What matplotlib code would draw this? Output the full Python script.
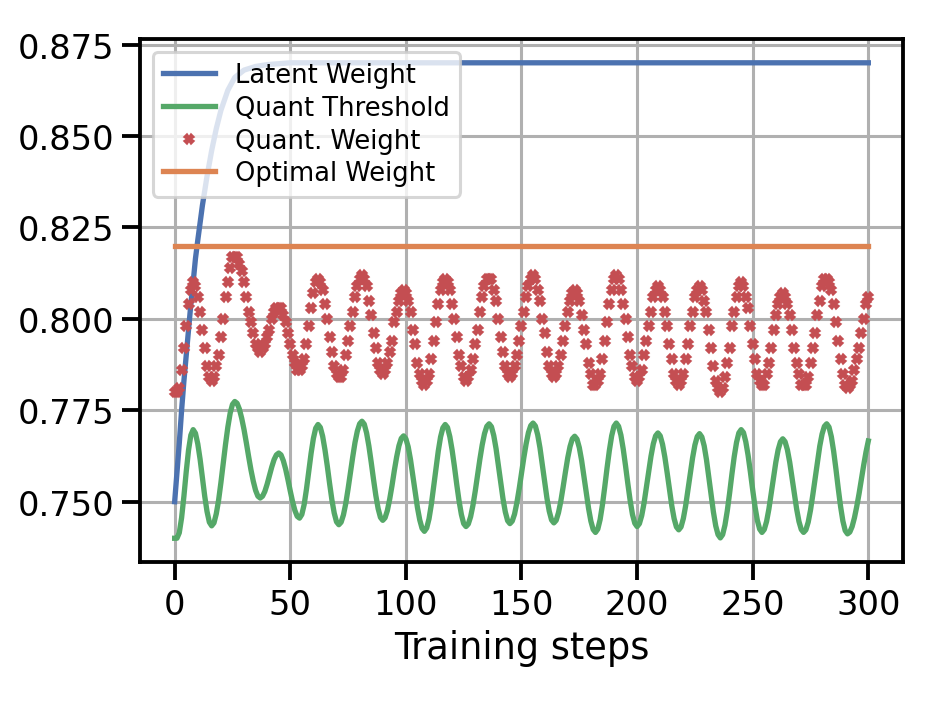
import numpy as np
import matplotlib
matplotlib.use("Agg")
import matplotlib.pyplot as plt
import seaborn as sns

# latent weight, read at a few steps (rest is flat)
latent_steps = [0, 1, 2, 3, 4, 5, 6, 7, 8, 9, 10, 12, 14, 16, 18, 20, 23, 26,
                30, 35, 40, 50, 300]
latent_weight = [0.750, 0.758, 0.766, 0.775, 0.783, 0.790, 0.797, 0.804, 0.810,
                 0.8165, 0.8215, 0.831, 0.839, 0.846, 0.852, 0.857, 0.8625,
                 0.866, 0.868, 0.869, 0.8695, 0.870, 0.870]

# quant threshold, one value per training step (0..300)
quant_threshold = [
    0.7400, 0.7400, 0.7415, 0.7456, 0.7515, 0.7582, 0.7641, 0.7682, 0.7697, 0.7687,
    0.7658, 0.7616, 0.7565, 0.7515, 0.7473, 0.7444, 0.7434, 0.7442, 0.7467, 0.7504,
    0.7552, 0.7604, 0.7657, 0.7704, 0.7742, 0.7766, 0.7774, 0.7769, 0.7753, 0.7728,
    0.7697, 0.7661, 0.7623, 0.7587, 0.7556, 0.7531, 0.7515, 0.7510, 0.7515, 0.7528,
    0.7548, 0.7572, 0.7595, 0.7615, 0.7628, 0.7633, 0.7628, 0.7612, 0.7589, 0.7560,
    0.7529, 0.7500, 0.7476, 0.7460, 0.7455, 0.7465, 0.7492, 0.7534, 0.7583, 0.7632,
    0.7673, 0.7701, 0.7711, 0.7703, 0.7679, 0.7642, 0.7598, 0.7550, 0.7505, 0.7469,
    0.7445, 0.7437, 0.7444, 0.7464, 0.7495, 0.7535, 0.7579, 0.7622, 0.7662, 0.7693,
    0.7713, 0.7720, 0.7712, 0.7688, 0.7652, 0.7608, 0.7561, 0.7517, 0.7481, 0.7457,
    0.7449, 0.7456, 0.7476, 0.7507, 0.7544, 0.7585, 0.7622, 0.7653, 0.7673, 0.7680,
    0.7672, 0.7650, 0.7615, 0.7572, 0.7527, 0.7484, 0.7450, 0.7427, 0.7419, 0.7428,
    0.7453, 0.7492, 0.7540, 0.7590, 0.7638, 0.7677, 0.7702, 0.7711, 0.7703, 0.7678,
    0.7641, 0.7596, 0.7547, 0.7502, 0.7465, 0.7440, 0.7432, 0.7439, 0.7459, 0.7490,
    0.7529, 0.7573, 0.7616, 0.7655, 0.7686, 0.7706, 0.7713, 0.7705, 0.7681, 0.7645,
    0.7600, 0.7553, 0.7508, 0.7472, 0.7448, 0.7440, 0.7447, 0.7466, 0.7497, 0.7535,
    0.7578, 0.7620, 0.7658, 0.7689, 0.7708, 0.7715, 0.7707, 0.7683, 0.7647, 0.7602,
    0.7555, 0.7510, 0.7474, 0.7450, 0.7442, 0.7449, 0.7470, 0.7501, 0.7540, 0.7581,
    0.7620, 0.7651, 0.7672, 0.7679, 0.7671, 0.7648, 0.7613, 0.7570, 0.7525, 0.7482,
    0.7447, 0.7424, 0.7416, 0.7425, 0.7451, 0.7491, 0.7540, 0.7592, 0.7640, 0.7680,
    0.7706, 0.7715, 0.7706, 0.7682, 0.7644, 0.7598, 0.7549, 0.7503, 0.7465, 0.7441,
    0.7432, 0.7440, 0.7462, 0.7496, 0.7538, 0.7582, 0.7624, 0.7658, 0.7680, 0.7688,
    0.7680, 0.7657, 0.7622, 0.7579, 0.7533, 0.7489, 0.7454, 0.7431, 0.7423, 0.7431,
    0.7454, 0.7489, 0.7532, 0.7577, 0.7620, 0.7655, 0.7678, 0.7686, 0.7677, 0.7653,
    0.7615, 0.7568, 0.7519, 0.7472, 0.7434, 0.7410, 0.7401, 0.7410, 0.7436, 0.7475,
    0.7523, 0.7575, 0.7623, 0.7662, 0.7688, 0.7697, 0.7689, 0.7664, 0.7627, 0.7581,
    0.7532, 0.7486, 0.7449, 0.7425, 0.7416, 0.7424, 0.7446, 0.7480, 0.7522, 0.7566,
    0.7608, 0.7642, 0.7664, 0.7672, 0.7664, 0.7642, 0.7608, 0.7566, 0.7522, 0.7480,
    0.7446, 0.7424, 0.7416, 0.7423, 0.7444, 0.7477, 0.7519, 0.7564, 0.7610, 0.7652,
    0.7685, 0.7706, 0.7713, 0.7704, 0.7678, 0.7638, 0.7589, 0.7536, 0.7487, 0.7447,
    0.7421, 0.7412, 0.7417, 0.7432, 0.7456, 0.7487, 0.7522, 0.7561, 0.7600, 0.7636,
    0.7666,
]

# quantized weight, one marker per training step (0..300)
quant_weight = [
    0.780, 0.780, 0.781, 0.786, 0.792, 0.798, 0.804, 0.808, 0.810, 0.809,
    0.806, 0.802, 0.797, 0.792, 0.787, 0.784, 0.783, 0.784, 0.787, 0.790,
    0.795, 0.800, 0.806, 0.810, 0.814, 0.817, 0.817, 0.817, 0.815, 0.813,
    0.810, 0.806, 0.802, 0.799, 0.796, 0.793, 0.792, 0.791, 0.792, 0.793,
    0.795, 0.797, 0.800, 0.802, 0.803, 0.803, 0.803, 0.801, 0.799, 0.796,
    0.793, 0.790, 0.788, 0.786, 0.786, 0.787, 0.789, 0.793, 0.798, 0.803,
    0.807, 0.810, 0.811, 0.810, 0.808, 0.804, 0.800, 0.795, 0.791, 0.787,
    0.785, 0.784, 0.784, 0.786, 0.790, 0.794, 0.798, 0.802, 0.806, 0.809,
    0.811, 0.812, 0.811, 0.809, 0.805, 0.801, 0.796, 0.792, 0.788, 0.786,
    0.785, 0.786, 0.788, 0.791, 0.794, 0.799, 0.802, 0.805, 0.807, 0.808,
    0.807, 0.805, 0.802, 0.797, 0.793, 0.788, 0.785, 0.783, 0.782, 0.783,
    0.785, 0.789, 0.794, 0.799, 0.804, 0.808, 0.810, 0.811, 0.810, 0.808,
    0.804, 0.800, 0.795, 0.790, 0.787, 0.784, 0.783, 0.784, 0.786, 0.789,
    0.793, 0.797, 0.802, 0.806, 0.809, 0.811, 0.811, 0.811, 0.808, 0.805,
    0.800, 0.795, 0.791, 0.787, 0.785, 0.784, 0.785, 0.787, 0.790, 0.794,
    0.798, 0.802, 0.806, 0.809, 0.811, 0.812, 0.811, 0.808, 0.805, 0.800,
    0.796, 0.791, 0.787, 0.785, 0.784, 0.785, 0.787, 0.790, 0.794, 0.798,
    0.802, 0.805, 0.807, 0.808, 0.807, 0.805, 0.801, 0.797, 0.793, 0.788,
    0.785, 0.782, 0.782, 0.783, 0.785, 0.789, 0.794, 0.799, 0.804, 0.808,
    0.811, 0.812, 0.811, 0.808, 0.804, 0.800, 0.795, 0.790, 0.787, 0.784,
    0.783, 0.784, 0.786, 0.790, 0.794, 0.798, 0.802, 0.806, 0.808, 0.809,
    0.808, 0.806, 0.802, 0.798, 0.793, 0.789, 0.785, 0.783, 0.782, 0.783,
    0.785, 0.789, 0.793, 0.798, 0.802, 0.806, 0.808, 0.809, 0.808, 0.805,
    0.802, 0.797, 0.792, 0.787, 0.783, 0.781, 0.780, 0.781, 0.784, 0.788,
    0.792, 0.798, 0.802, 0.806, 0.809, 0.810, 0.809, 0.806, 0.803, 0.798,
    0.793, 0.789, 0.785, 0.783, 0.782, 0.782, 0.785, 0.788, 0.792, 0.797,
    0.801, 0.804, 0.806, 0.807, 0.806, 0.804, 0.801, 0.797, 0.792, 0.788,
    0.785, 0.782, 0.782, 0.782, 0.784, 0.788, 0.792, 0.796, 0.801, 0.805,
    0.809, 0.811, 0.811, 0.810, 0.808, 0.804, 0.799, 0.794, 0.789, 0.785,
    0.782, 0.781, 0.782, 0.783, 0.786, 0.789, 0.792, 0.796, 0.800, 0.804,
    0.806,
]

optimal_steps = [0, 300]
optimal_weight = [0.82, 0.82]


def main():
    sns.set_context("talk")
    colors = sns.color_palette("deep")

    steps = np.arange(len(quant_threshold))

    fig = plt.figure(figsize=(942 / 147, 706 / 147), dpi=147)
    ax = fig.add_subplot(111)
    fig.subplots_adjust(left=0.1486, right=0.9586, bottom=0.2025, top=0.9433)

    ax.plot(latent_steps, latent_weight, color=colors[0], lw=2.6,
            label="Latent Weight")
    ax.plot(steps, quant_threshold, color=colors[2], lw=2.6,
            label="Quant Threshold")
    ax.plot(steps, quant_weight, "X", color=colors[3], markersize=4.5,
            markeredgewidth=0.8, markeredgecolor=colors[3],
            label="Quant. Weight")
    ax.plot(optimal_steps, optimal_weight, color=colors[1], lw=2.6,
            label="Optimal Weight")

    ax.set_xlabel("Training steps")
    ax.grid(True)
    ax.legend(loc="upper left", fontsize=12.6, labelspacing=0.26)

    fig.savefig("out.png", dpi=147)


if __name__ == "__main__":
    main()
